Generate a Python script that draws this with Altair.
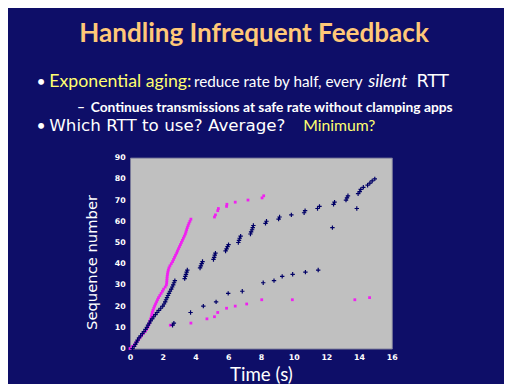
import altair as alt
import pandas as pd

# ---- data ----
mag_seq = list(range(0, 62)) + [62, 63, 65, 66, 67, 68, 69, 70, 71, 72] + \
    [11, 12, 14, 15, 17, 19, 20, 21, 23, 23, 23, 24]
mag_time = [0.0, 0.15, 0.3, 0.38, 0.5, 0.6, 0.7, 0.8, 0.92, 1.0,
            1.08, 1.13, 1.18, 1.22, 1.26, 1.3, 1.33, 1.36, 1.4, 1.45,
            1.5, 1.56, 1.62, 1.68, 1.74, 1.82, 1.9, 1.98, 2.05, 2.15,
            2.22, 2.24, 2.25, 2.26, 2.27, 2.29, 2.31, 2.34, 2.38, 2.44,
            2.52, 2.6, 2.66, 2.72, 2.78, 2.85, 2.9, 2.96, 3.02, 3.08,
            3.14, 3.2, 3.26, 3.32, 3.38, 3.42, 3.46, 3.5, 3.55, 3.6,
            3.66, 3.72] + \
    [5.16, 5.22, 5.36, 5.4, 5.9, 5.92, 6.43, 7.21, 8.07, 8.17] + \
    [2.46, 3.72, 4.7, 5.16, 5.36, 5.9, 6.43, 7.13, 8.05, 9.92, 13.74, 14.64]

navy_seq = list(range(0, 81)) + [57, 66] + \
    [11, 12, 17, 20, 22, 26, 27, 31, 32, 34, 35, 36, 37]
navy_time = [0.15, 0.25, 0.32, 0.4, 0.46, 0.55, 0.65, 0.75, 0.85, 0.95,
             1.03, 1.1, 1.18, 1.26, 1.35, 1.45, 1.55, 1.65, 1.76, 1.88,
             2.0, 2.08, 2.15, 2.2, 2.26, 2.32, 2.38, 2.44, 2.52, 2.58,
             2.64, 2.69, 2.74,
             3.34, 3.38, 3.42, 3.46, 3.5,
             4.28, 4.33, 4.38, 4.43,
             5.1, 5.14, 5.18, 5.22,
             5.84, 5.9, 5.96, 6.02,
             6.62, 6.66, 6.7, 6.76,
             7.36, 7.4, 7.46, 7.5, 7.54,
             8.28, 8.34,
             9.08, 9.14,
             9.86,
             10.64, 10.7,
             11.46, 11.58,
             12.44, 12.5,
             13.2, 13.26, 13.32,
             13.94, 14.04, 14.1, 14.26, 14.52, 14.66, 14.8, 14.96] + \
    [12.37, 13.86] + \
    [2.6, 2.68, 3.7, 4.48, 5.26, 6.0, 6.86, 8.14, 8.8, 9.3, 9.94, 10.72, 11.5]

x_ticks = [0, 2, 4, 6, 8, 10, 12, 14, 16]
y_ticks = [0, 10, 20, 30, 40, 50, 60, 70, 80, 90]

title_text = "Handling Infrequent Feedback"

BG = "#0e0e68"
WHITE = "#ffffff"
YELLOW = "#ffff70"
ORANGE = "#ffc878"
MAGENTA = "#f020f0"
NAVY = "#000066"

mag = pd.DataFrame({"t": mag_time, "s": mag_seq})
nav = pd.DataFrame({"t": navy_time, "s": navy_seq})

xs = alt.Scale(domain=[0, 16], nice=False)
ys = alt.Scale(domain=[0, 90], nice=False)

xax = alt.Axis(values=x_ticks, title="Time (s)", grid=False, ticks=False, domain=False,
               labelOverlap=False, labelFlush=False, labelSeparation=0,
               labelColor=WHITE, labelFontSize=8, labelFontWeight="bold", labelFont="DejaVu Sans",
               labelPadding=5, titleColor=WHITE, titleFontSize=19, titleFont="Lato",
               titleFontWeight="normal", titleX=133, titleY=26, titleBaseline="middle")
yax = alt.Axis(values=y_ticks, title="Sequence number", grid=False, ticks=False, domain=False,
               labelOverlap=False, labelFlush=False, labelSeparation=0,
               labelColor=WHITE, labelFontSize=8, labelFontWeight="bold", labelFont="DejaVu Sans",
               labelPadding=5, titleColor=WHITE, titleFontSize=15, titleFont="DejaVu Sans",
               titleFontWeight="normal", titleX=-39, titleY=106, titleBaseline="middle")

pts_mag = alt.Chart(mag).mark_point(shape="square", filled=True, size=8, opacity=1,
                                    color=MAGENTA).encode(
    x=alt.X("t:Q", scale=xs, axis=xax),
    y=alt.Y("s:Q", scale=ys, axis=yax),
)
pts_nav = alt.Chart(nav).mark_point(shape="M-1,0H1M0,-1V1", filled=False, size=20,
                                    strokeWidth=1.2, opacity=1, color=NAVY).encode(
    x=alt.X("t:Q", scale=xs, axis=xax),
    y=alt.Y("s:Q", scale=ys, axis=yax),
)


def txt(s, x, y, color=WHITE, size=16, align="left", font="Lato", weight="normal", style="normal"):
    return alt.Chart(pd.DataFrame({"v": [s]})).mark_text(
        align=align, baseline="middle", color=color, fontSize=size, font=font,
        fontWeight=weight, fontStyle=style).encode(
        x=alt.value(x), y=alt.value(y), text="v:N")


texts = [
    txt(title_text, 126, -125, color=ORANGE, size=26.5, align="center", weight="bold"),
    txt("•", -95, -77, size=16),
    txt("Exponential aging:", -82, -77, color=YELLOW, size=18),
    txt("reduce rate by half, every", 65, -77, size=15.5),
    txt("silent", 242, -77, size=18, style="italic"),
    txt("RTT", 291, -77, size=18, font="DejaVu Sans"),
    txt("–", -54, -50, size=14, weight="bold"),
    txt("Continues transmissions at safe rate without clamping apps", -40, -50, size=14, weight="bold"),
    txt("•", -95, -32, size=16),
    txt("Which RTT to use? Average?", -82, -32, size=17, font="DejaVu Sans"),
    txt("Minimum?", 176, -32, color=YELLOW, size=16),
]

chart = alt.layer(pts_mag, pts_nav, *texts).properties(
    width=266, height=194,
    autosize=alt.AutoSizeParams(type="none"),
    padding={"left": 124, "top": 149, "right": 114, "bottom": 33},
    background=BG,
).configure_view(fill="#c0c0c0", stroke="#7a7a9a", strokeWidth=1)

chart.save("out.html", embed_options={"renderer": "svg", "actions": False})
